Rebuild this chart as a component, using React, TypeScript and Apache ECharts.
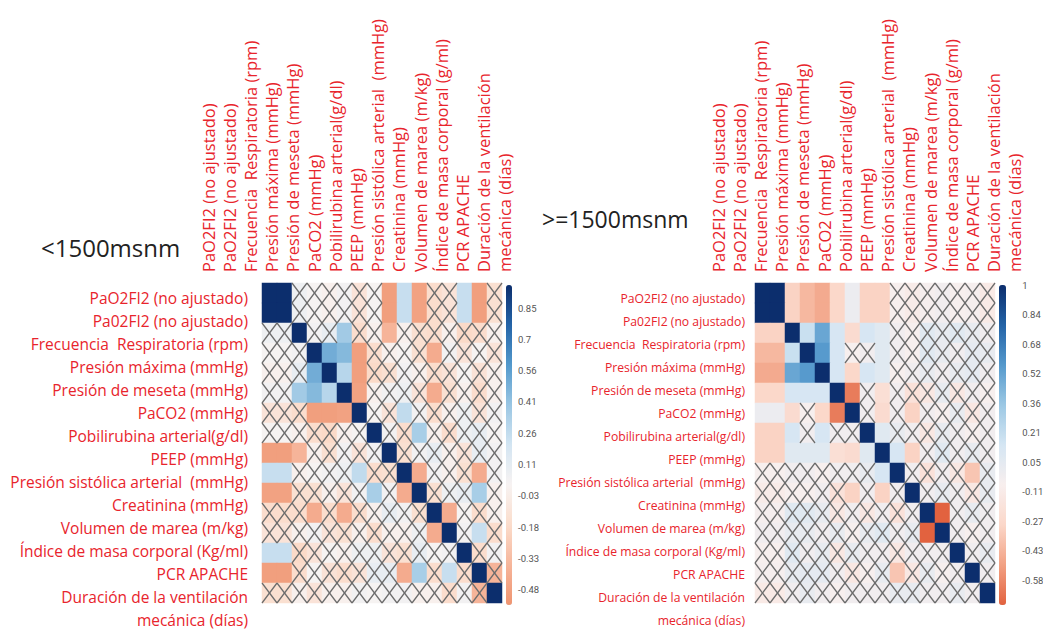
import React, { useEffect, useRef } from 'react';
import * as echarts from 'echarts';

// ---------- labels ----------
const rowLabelsLeft = [
  'PaO2FI2 (no ajustado)', 'Pa02FI2 (no ajustado)', 'Frecuencia  Respiratoria (rpm)',
  'Presión máxima (mmHg)', 'Presión de meseta (mmHg)', 'PaCO2 (mmHg)',
  'Pobilirubina arterial(g/dl)', 'PEEP (mmHg)', 'Presión sistólica arterial  (mmHg)',
  'Creatinina (mmHg)', 'Volumen de marea (m/kg)', 'Índice de masa corporal (Kg/ml)',
  'PCR APACHE', 'Duración de la ventilación', 'mecánica (días)',
];
const rowLabelsRight = rowLabelsLeft;
const colLabels = [
  'PaO2FI2 (no ajustado)', 'PaO2FI2 (no ajustado)', 'Frecuencia  Respiratoria (rpm)',
  'Presión máxima (mmHg)', 'Presión de meseta (mmHg)', 'PaCO2 (mmHg)',
  'Pobilirubina arterial(g/dl)', 'PEEP (mmHg)', 'Presión sistólica arterial  (mmHg)',
  'Creatinina (mmHg)', 'Volumen de marea (m/kg)', 'Índice de masa corporal (g/ml)',
  'PCR APACHE', 'Duración de la ventilación', 'mecánica (días)',
];
const titleLeft = '<1500msnm';
const titleRight = '>=1500msnm';
const barTicksLeft = ['0.85', '0.7', '0.56', '0.41', '0.26', '0.11', '-0.03', '-0.18', '-0.33', '-0.48'];
const barTicksRight = ['1', '0.84', '0.68', '0.52', '0.36', '0.21', '0.05', '-0.11', '-0.27', '-0.43', '-0.58'];

// ---------- correlation values (upper triangle, row i: cols i+1..15) ----------
const leftUpper: number[][] = [
  [1, 0.12, 0.08, 0.05, 0.1, -0.05, 0.08, -0.42, 0.3, -0.4, -0.1, -0.05, 0.3, -0.42, -0.08],
  [0.12, 0.08, 0.05, 0.1, -0.05, 0.08, -0.42, 0.3, -0.4, -0.1, -0.05, 0.3, -0.42, -0.08],
  [0.1, 0.15, 0.42, -0.1, 0.05, -0.3, 0.05, -0.08, -0.1, 0.05, -0.12, -0.1, 0.05],
  [0.55, 0.5, -0.42, -0.1, 0.05, 0.08, -0.08, -0.35, 0.1, -0.05, 0.08, -0.05],
  [0.35, -0.42, -0.12, -0.08, 0.1, 0.05, -0.1, -0.05, 0.08, -0.06, 0.05],
  [-0.4, 0.05, 0.1, 0.12, -0.05, -0.35, -0.08, 0.05, -0.1, 0.05],
  [0.08, -0.05, 0.32, 0.1, -0.1, 0.05, 0.12, -0.05, 0.1],
  [0.1, -0.1, 0.4, 0.05, -0.1, 0.12, 0.15, 0.08],
  [-0.08, 0.1, 0.15, 0.05, -0.05, 0.15, 0.1],
  [-0.35, 0.1, 0.05, -0.08, -0.35, 0.1],
  [-0.08, 0.12, 0.15, 0.4, 0.05],
  [-0.35, 0.08, -0.1, 0.05],
  [0.1, 0.3, -0.1],
  [-0.1, 0.1],
  [-0.3],
];
const leftSig: [number, number][] = [
  [0, 1], [0, 8], [0, 9], [0, 10], [0, 13], [0, 14],
  [1, 8], [1, 9], [1, 10], [1, 13], [1, 14],
  [2, 5], [2, 8], [3, 4], [3, 5], [3, 6], [3, 11],
  [4, 5], [4, 6], [5, 6], [5, 11], [6, 9], [7, 10],
  [9, 10], [9, 14], [10, 14], [11, 12], [12, 14],
];

const rightUpper: number[][] = [
  [1, -0.2, -0.3, -0.35, -0.18, 0.08, -0.2, -0.2, 0.02, -0.02, 0.03, 0.05, 0.02, 0.03, -0.03],
  [-0.2, -0.3, -0.35, -0.18, 0.08, -0.2, -0.2, 0.02, -0.02, 0.03, 0.05, 0.02, 0.03, -0.03],
  [0.25, 0.55, 0.2, -0.15, 0.2, 0.15, 0.05, 0.02, 0.15, 0.1, 0.15, 0.1, 0.05],
  [0.6, 0.2, 0.02, 0.05, 0.15, 0.05, 0.02, 0.15, 0.1, 0.05, 0.12, 0.1],
  [0.2, -0.18, 0.2, 0.15, 0.02, 0.05, 0.1, 0.05, 0.1, 0.12, 0.05],
  [-0.5, 0.05, -0.12, 0.05, -0.1, -0.05, 0.1, -0.05, 0.05, 0.02],
  [0.05, -0.15, 0.05, -0.2, 0.05, 0.02, 0.1, -0.05, 0.05],
  [0.15, 0.1, 0.05, -0.05, 0.1, 0.05, 0.02, 0.05],
  [0.2, -0.2, 0.05, 0.15, 0.05, 0.1, 0.05],
  [0.05, -0.1, 0.05, -0.05, -0.25, 0.1],
  [0.05, 0.1, 0.05, -0.05, 0.1],
  [-0.65, 0.05, 0.1, 0.05],
  [0.05, 0.02, 0.05],
  [0.05, 0.1],
  [0.05],
];
const rightSigGroup = [0, 1, 2, 3, 4, 5, 6, 7, 8];
const rightInsigInGroup: [number, number][] = [[3, 6], [3, 7], [5, 7], [6, 7]];
const rightSigExtra: [number, number][] = [[6, 10], [8, 9], [8, 10], [9, 14], [11, 12]];

const leftColors = ['#ef9470', '#f6b59a', '#fbdccb', '#f7f3f2', '#d3e5f2', '#9ac6e3', '#5399cc', '#2464a8', '#0c2e6d'];
const rightColors = ['#e2623f', '#f2a183', '#fbd7c9', '#f8efee', '#d5e6f3', '#9cc8e4', '#5599cc', '#2363a6', '#0c2e6d'];

const N = 16;

function fullMatrix(upper: number[][]): number[][] {
  const m: number[][] = [];
  for (let i = 0; i < N; i++) { m.push(new Array(N).fill(1)); }
  for (let i = 0; i < N - 1; i++) {
    for (let j = i + 1; j < N; j++) {
      const v = upper[i][j - i - 1];
      m[i][j] = v; m[j][i] = v;
    }
  }
  return m;
}

function sigMatrix(pairs: [number, number][]): boolean[][] {
  const s: boolean[][] = [];
  for (let i = 0; i < N; i++) { s.push(new Array(N).fill(false)); s[i][i] = true; }
  pairs.forEach(([a, b]) => { s[a][b] = true; s[b][a] = true; });
  return s;
}

function rightPairs(): [number, number][] {
  const out: [number, number][] = [];
  const skip = new Set(rightInsigInGroup.map(([a, b]) => a + '-' + b));
  for (const a of rightSigGroup) for (const b of rightSigGroup) {
    if (a < b && !skip.has(a + '-' + b)) out.push([a, b]);
  }
  return out.concat(rightSigExtra);
}

function heatData(m: number[][]) {
  const d: number[][] = [];
  for (let i = 0; i < N; i++) for (let j = 0; j < N; j++) d.push([j, i, m[i][j]]);
  return d;
}
function hatchData(s: boolean[][]) {
  const d: number[][] = [];
  for (let i = 0; i < N; i++) for (let j = 0; j < N; j++) if (!s[i][j]) d.push([j, i]);
  return d;
}

const idx = (n: number) => Array.from({ length: n }, (_, i) => String(i));
const RED = '#e8242c';

function hatchRender(params: any, api: any) {
  const c = api.coord([api.value(0), api.value(1)]);
  const s = api.size([1, 1]);
  const x0 = c[0] - s[0] / 2, x1 = c[0] + s[0] / 2, y0 = c[1] - s[1] / 2, y1 = c[1] + s[1] / 2;
  const style = { stroke: '#6c6c6c', lineWidth: 1.3 };
  return {
    type: 'group',
    children: [
      { type: 'line', shape: { x1: x0, y1: y0, x2: x1, y2: y1 }, style },
      { type: 'line', shape: { x1: x0, y1: y1, x2: x1, y2: y0 }, style },
    ],
  };
}

function buildOption() {
  const mL = fullMatrix(leftUpper);
  const mR = fullMatrix(rightUpper);
  const sL = sigMatrix(leftSig);
  const sR = sigMatrix(rightPairs());

  const hiddenCat = (gridIndex: number, inverse = false) => ({
    gridIndex, type: 'category', data: idx(N), inverse, show: false,
  });
  const hiddenVal = (gridIndex: number) => ({ gridIndex, type: 'value', show: false });

  const rowAxis = (gridIndex: number, labels: string[], size: number) => ({
    gridIndex, type: 'category', inverse: true, data: idx(labels.length),
    axisLine: { show: false }, axisTick: { show: false }, splitLine: { show: false },
    axisLabel: {
      interval: 0, margin: 2, color: RED, fontSize: size, fontFamily: 'Open Sans',
      formatter: (_v: string, i: number) => labels[i],
    },
  });
  const colAxis = (gridIndex: number, labels: string[]) => ({
    gridIndex, type: 'category', position: 'top', data: idx(labels.length),
    axisLine: { show: false }, axisTick: { show: false }, splitLine: { show: false },
    axisLabel: {
      interval: 0, margin: 3, rotate: 90, color: RED, fontSize: 16.5, fontFamily: 'Open Sans',
      formatter: (_v: string, i: number) => labels[i],
    },
  });
  const tickAxis = (gridIndex: number, labels: string[]) => ({
    gridIndex, type: 'category', inverse: true, position: 'right', data: idx(labels.length),
    axisLine: { show: false }, axisTick: { show: false }, splitLine: { show: false },
    axisLabel: {
      interval: 0, margin: 3, color: '#555', fontSize: 9.5, fontFamily: 'Roboto',
      formatter: (_v: string, i: number) => labels[i],
    },
  });

  return {
    animation: false,
    backgroundColor: '#ffffff',
    title: [
      { text: titleLeft, left: 41, top: 235, padding: 0, textStyle: { fontSize: 24, fontWeight: 'normal', fontFamily: 'Open Sans', color: '#222' } },
      { text: titleRight, left: 542, top: 207, padding: 0, textStyle: { fontSize: 23, fontWeight: 'normal', fontFamily: 'Open Sans', color: '#222' } },
    ],
    grid: [
      { left: 262, top: 283, width: 240, height: 320 },
      { left: 755, top: 283, width: 240, height: 320 },
      { left: 250, top: 286.5, width: 1, height: 345 },
      { left: 747, top: 286.5, width: 1, height: 345 },
      { left: 197.4, top: 275, width: 318, height: 1 },
      { left: 707.4, top: 275, width: 318, height: 1 },
      { left: 514, top: 292.35, width: 1, height: 313 },
      { left: 1019, top: 270.25, width: 1, height: 324.5 },
    ],
    xAxis: [
      hiddenCat(0), hiddenCat(1), hiddenVal(2), hiddenVal(3),
      colAxis(4, colLabels), colAxis(5, colLabels), hiddenVal(6), hiddenVal(7),
    ],
    yAxis: [
      hiddenCat(0, true), hiddenCat(1, true),
      rowAxis(2, rowLabelsLeft, 15.5), rowAxis(3, rowLabelsRight, 12.2),
      hiddenVal(4), hiddenVal(5),
      tickAxis(6, barTicksLeft), tickAxis(7, barTicksRight),
    ],
    visualMap: [
      {
        type: 'continuous', seriesIndex: 0, min: -0.48, max: 1, calculable: false,
        left: 506, top: 285, itemWidth: 6, itemHeight: 320, padding: 0,
        inRange: { color: leftColors },
      },
      {
        type: 'continuous', seriesIndex: 2, min: -0.58, max: 1, calculable: false,
        left: 999, top: 285, itemWidth: 7, itemHeight: 320, padding: 0,
        inRange: { color: rightColors },
      },
    ],
    series: [
      { type: 'heatmap', xAxisIndex: 0, yAxisIndex: 0, data: heatData(mL) },
      { type: 'custom', xAxisIndex: 0, yAxisIndex: 0, renderItem: hatchRender, data: hatchData(sL), silent: true },
      { type: 'heatmap', xAxisIndex: 1, yAxisIndex: 1, data: heatData(mR) },
      { type: 'custom', xAxisIndex: 1, yAxisIndex: 1, renderItem: hatchRender, data: hatchData(sR), silent: true },
    ],
  };
}

export default function App() {
  const ref = useRef<HTMLDivElement>(null);
  useEffect(() => {
    const chart = echarts.init(ref.current!, null, { renderer: 'svg' });
    chart.setOption(buildOption() as any);
    return () => chart.dispose();
  }, []);
  return (
    <div
      ref={ref}
      style={{ position: 'fixed', left: 0, top: 0, width: 1043, height: 635, background: '#fff' }}
    />
  );
}
